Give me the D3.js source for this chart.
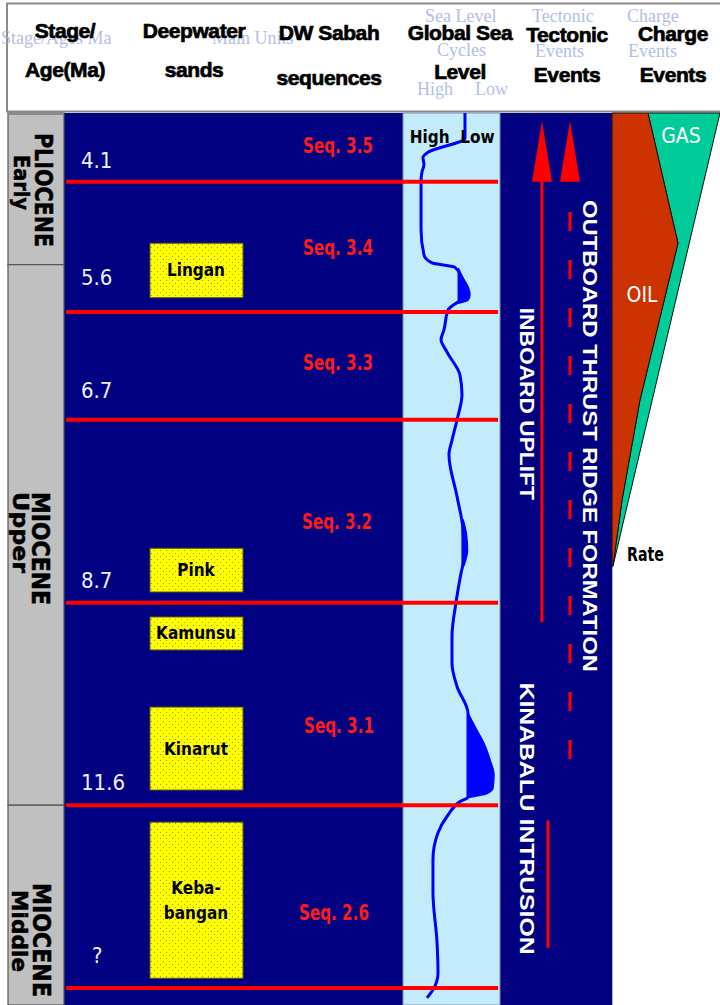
<!DOCTYPE html>
<html>
<head>
<meta charset="utf-8">
<script src="https://cdn.jsdelivr.net/npm/d3@7"></script>
<style>
  body { margin: 0; background: #fff; }
  svg { display: block; }
</style>
</head>
<body>
<div id="chart"></div>
<script>
// ---- data (depth = position down the chart column, 0 = top, 100 = bottom) ----
var headerTitles = [["Stage/", "Age(Ma)"], ["Deepwater", "sands"], ["DW Sabah", "sequences"],
                    ["Global Sea", "Level"], ["Tectonic", "Events"], ["Charge", "Events"]];

var boundaryAges  = ["4.1", "5.6", "6.7", "8.7", "11.6", "?"];
var boundaryDepth = [7.7, 22.3, 34.4, 54.9, 77.6, 98.1];

var stageNames = [["PLIOCENE", "Early"], ["MIOCENE", "Upper"], ["MIOCENE", "Middle"]];
var stageTop    = [0, 17.0, 77.6];
var stageBottom = [17.0, 77.6, 100];

var seqNames = ["Seq. 3.5", "Seq. 3.4", "Seq. 3.3", "Seq. 3.2", "Seq. 3.1", "Seq. 2.6"];

var sandNames  = [["Lingan"], ["Pink"], ["Kamunsu"], ["Kinarut"], ["Keba-", "bangan"]];
var sandTop    = [14.6, 48.8, 56.5, 66.6, 79.5];
var sandBottom = [20.7, 53.7, 60.2, 75.9, 97.0];

// global sea level: [depth, level] with level 0 = High, 100 = Low
var seaLevel = [[0, 63.9], [2.8, 63.9], [4.4, 25.8], [5.0, 20.6], [5.8, 21.6], [6.6, 19.6],
  [7.7, 18.6], [13.1, 18.6], [15.9, 21.6], [16.8, 29.9], [17.3, 53.6], [18.5, 60.8],
  [20.1, 64.9], [20.9, 62.0], [21.2, 56.7], [22.1, 46.4], [24.3, 42.3], [25.4, 39.2],
  [26.8, 45.4], [29.4, 58.8], [31.6, 60.8], [34.4, 55.7], [36.7, 50.5], [38.3, 47.4],
  [43.0, 55.7], [46.7, 61.9], [49.8, 62.9], [51.6, 59.8], [54.9, 54.6], [58.7, 50.5],
  [61.7, 50.5], [64.3, 55.7], [67.3, 67.0], [76.7, 67.0], [77.2, 58.8], [78.7, 46.4],
  [80.7, 36.1], [83.7, 30.9], [87.4, 30.9], [93.0, 35.1], [96.4, 36.1], [98.3, 30.9], [99.2, 24.7]];

// lowstand wedges: [depth, inner level, outer level]
var wedges = [
  [[17.4, 57, 57], [18.5, 57, 62], [19.6, 57, 67.5], [20.4, 57, 69], [21.0, 57, 67], [21.3, 57, 58]],
  [[45.6, 61, 62], [47.3, 61, 65.5], [49.0, 61, 66.5], [50.7, 61, 63]],
  [[67.3, 67, 67], [69.2, 67, 76.3], [70.9, 67, 84.5], [72.5, 67, 89.7], [74.2, 67, 93.8],
   [75.7, 67, 92.8], [76.3, 67, 86.6], [76.7, 67, 69]]
];

// tectonic events
var tectNames  = ["INBOARD UPLIFT", "OUTBOARD THRUST RIDGE FORMATION", "KINABALU INTRUSION"];
var tectCenter = [32.6, 36.2, 79.1];
var upliftArrow  = { tip: 0.9, base: 7.7, end: 57.1 };
var thrustArrow  = { tip: 0.9, base: 7.7, dashStart: 11.1, end: 73.7 };
var intrusionBar = { top: 79.3, end: 93.6 };

// charge events (cumulative rate, 0..100 across the column)
var chargeDepth = [0, 14.6, 32.2, 43.4, 50.8];
var oilRate     = [33.3, 61.1, 25.9, 9.3, 0.9];
var totalRate   = [100, 71.5, 37.2, 15.3, 0.9];

// ---- layout ----
var W = 720, H = 1005;
var bodyTop = 113;
var colGray = [8, 64], colNavy = [64, 612], colSea = [403, 500], colCharge = [612, 720];
var condensed = "'Liberation Sans Narrow', 'DejaVu Sans Condensed', sans-serif";
var headFont = "'Liberation Sans', Arial, sans-serif";

var y  = d3.scaleLinear().domain([0, 100]).range([bodyTop, H]);
var sx = d3.scaleLinear().domain([0, 100]).range(colSea);
var cx = d3.scaleLinear().domain([0, 100]).range(colCharge);

var svg = d3.select("#chart").append("svg")
    .attr("width", W)
    .attr("height", H);

var defs = svg.append("defs");
var pat = defs.append("pattern")
    .attr("id", "dots")
    .attr("patternUnits", "userSpaceOnUse")
    .attr("width", 6).attr("height", 6);
pat.append("rect").attr("width", 6).attr("height", 6).attr("fill", "#ffff00");
pat.append("circle").attr("cx", 1.5).attr("cy", 1.5).attr("r", 0.6).attr("fill", "#8a8a30");
pat.append("circle").attr("cx", 4.5).attr("cy", 4.5).attr("r", 0.6).attr("fill", "#8a8a30");

// ---- header ----
svg.append("rect")
    .attr("x", 7).attr("y", 3.5)
    .attr("width", 720).attr("height", 108)
    .attr("fill", "#fff")
    .attr("stroke", "#8c8c8c")
    .attr("stroke-width", 2);

// faint ghost labels behind the header
var ghost = [["Stage/Ages Ma", 1, 44], ["Main Units", 212, 44], ["Sea Level", 425, 22], ["Cycles", 437, 56],
             ["High", 417, 95], ["Low", 475, 95], ["Tectonic", 532, 22], ["Events", 535, 57],
             ["Charge", 627, 22], ["Events", 628, 57]];
svg.append("g").selectAll("text")
    .data(ghost)
    .join("text")
    .attr("x", d => d[1])
    .attr("y", d => d[2])
    .attr("font-family", "'Liberation Serif', serif")
    .attr("font-size", 18)
    .attr("fill", "#9fb0e0")
    .attr("opacity", 0.8)
    .text(d => d[0]);

var headCx = [65, 194, 329, 460, 567, 673];
var headY1 = [38, 38, 40, 40, 42, 41];
var headY2 = [77, 77, 85, 79, 82, 82];
var hg = svg.append("g")
    .attr("font-family", headFont)
    .attr("font-weight", "bold")
    .attr("font-size", 21)
    .attr("letter-spacing", -0.4)
    .attr("stroke", "#000")
    .attr("stroke-width", 0.7)
    .attr("text-anchor", "middle");
headerTitles.forEach(function (t, i) {
    hg.append("text").attr("x", headCx[i]).attr("y", headY1[i]).text(t[0]);
    hg.append("text").attr("x", headCx[i]).attr("y", headY2[i]).text(t[1]);
});

// ---- body backgrounds ----
svg.append("rect")
    .attr("x", colNavy[0]).attr("y", bodyTop)
    .attr("width", colNavy[1] - colNavy[0]).attr("height", H - bodyTop)
    .attr("fill", "#000080");

svg.append("rect")
    .attr("x", colSea[0]).attr("y", bodyTop)
    .attr("width", colSea[1] - colSea[0]).attr("height", H - bodyTop)
    .attr("fill", "#c2ecfc")
    .attr("stroke", "#7f8fa8")
    .attr("stroke-width", 1);

svg.append("line")
    .attr("x1", colNavy[1] + 0.5).attr("x2", colNavy[1] + 0.5)
    .attr("y1", bodyTop).attr("y2", H)
    .attr("stroke", "#b0b0c8").attr("stroke-width", 1);

// stage column
var stageG = svg.append("g");
stageG.selectAll("rect")
    .data(stageNames)
    .join("rect")
    .attr("x", colGray[0]).attr("width", colGray[1] - colGray[0])
    .attr("y", (d, i) => y(stageTop[i]))
    .attr("height", (d, i) => y(stageBottom[i]) - y(stageTop[i]))
    .attr("fill", "#c0c0c0")
    .attr("stroke", "#555")
    .attr("stroke-width", 1.2);

svg.append("rect")
    .attr("x", colGray[0]).attr("y", bodyTop - 1)
    .attr("width", colGray[1] - colGray[0]).attr("height", 3)
    .attr("fill", "#8a8a8a");

// rotated stage labels: start y, length in px, baseline x, font size
var stageLabelLayout = [
    [[133, 114, 35, 25], [155, 55, 14, 22]],
    [[492, 113, 32, 25], [492, 81, 13, 22]],
    [[883, 114, 33, 25], [890, 82, 12, 22]]
];
stageNames.forEach(function (s, i) {
    s.forEach(function (line, j) {
        var L = stageLabelLayout[i][j];
        stageG.append("text")
            .attr("transform", "translate(" + L[2] + "," + L[0] + ") rotate(90)")
            .attr("font-family", condensed)
            .attr("font-weight", "bold")
            .attr("font-size", L[3])
            .attr("textLength", L[1])
            .attr("lengthAdjust", "spacingAndGlyphs")
            .attr("fill", "#000")
            .attr("stroke", "#000")
            .attr("stroke-width", 0.5)
            .text(line);
    });
});

// sand bodies
var sandG = svg.append("g");
sandG.selectAll("rect")
    .data(sandNames)
    .join("rect")
    .attr("x", 150).attr("width", 93)
    .attr("y", (d, i) => y(sandTop[i]))
    .attr("height", (d, i) => y(sandBottom[i]) - y(sandTop[i]))
    .attr("fill", "url(#dots)")
    .attr("stroke", "#5a5a20")
    .attr("stroke-width", 1);
sandNames.forEach(function (n, i) {
    var mid = (y(sandTop[i]) + y(sandBottom[i])) / 2;
    n.forEach(function (line, j) {
        sandG.append("text")
            .attr("x", 196)
            .attr("y", mid + 6 + (j - (n.length - 1) / 2) * 25)
            .attr("text-anchor", "middle")
            .attr("font-family", condensed)
            .attr("font-weight", "bold")
            .attr("font-size", 17)
            .attr("fill", "#000")
            .text(line);
    });
});

// sea level curve
var seaG = svg.append("g");
var wedgeArea = d3.area()
    .curve(d3.curveMonotoneY)
    .y(d => y(d[0]))
    .x0(d => sx(d[1]))
    .x1(d => sx(d[2]));
seaG.selectAll("path.wedge")
    .data(wedges)
    .join("path")
    .attr("class", "wedge")
    .attr("d", wedgeArea)
    .attr("fill", "#0000ff")
    .attr("stroke", "#0000ff")
    .attr("stroke-width", 1.5);
seaG.append("path")
    .datum(seaLevel)
    .attr("d", d3.line().curve(d3.curveMonotoneY).x(d => sx(d[1])).y(d => y(d[0])))
    .attr("fill", "none")
    .attr("stroke", "#0000ff")
    .attr("stroke-width", 3)
    .attr("stroke-linejoin", "round");

seaG.selectAll("text.hl")
    .data(["High", "Low"])
    .join("text")
    .attr("class", "hl")
    .attr("x", (d, i) => i ? sx(59) : sx(7))
    .attr("y", 143)
    .attr("font-family", condensed)
    .attr("font-weight", "bold")
    .attr("font-size", 17)
    .attr("fill", "#000")
    .text(d => d);

// sequence boundaries
svg.append("g").selectAll("line")
    .data(boundaryDepth)
    .join("line")
    .attr("x1", 66).attr("x2", 498)
    .attr("y1", d => y(d)).attr("y2", d => y(d))
    .attr("stroke", "#ff0000")
    .attr("stroke-width", 4);

var ageLabelLift = [14, 27, 22, 15, 15, 25];
svg.append("g").selectAll("text")
    .data(boundaryAges)
    .join("text")
    .attr("x", (d, i) => d === "?" ? 92 : 81)
    .attr("y", (d, i) => y(boundaryDepth[i]) - ageLabelLift[i])
    .attr("font-family", condensed)
    .attr("font-size", 22)
    .attr("fill", "#f0f0ff")
    .text(d => d);

var seqLabelDepth = [4.5, 15.9, 28.8, 46.6, 69.5, 90.5];
var seqLabelX = [303, 303, 303, 302, 304, 299];
svg.append("g").selectAll("text")
    .data(seqNames)
    .join("text")
    .attr("x", (d, i) => seqLabelX[i])
    .attr("y", (d, i) => y(seqLabelDepth[i]))
    .attr("font-family", condensed)
    .attr("font-weight", "bold")
    .attr("font-size", 21)
    .attr("textLength", 70)
    .attr("lengthAdjust", "spacingAndGlyphs")
    .attr("fill", "#ff1a1a")
    .text(d => d);

// tectonic events
var tg = svg.append("g");
function arrowHead(xc, a) {
    return "M" + (xc - 10) + "," + y(a.base) + "L" + xc + "," + y(a.tip) + "L" + (xc + 10) + "," + y(a.base) + "Z";
}
tg.append("path").attr("d", arrowHead(542, upliftArrow)).attr("fill", "#ff0000");
tg.append("line")
    .attr("x1", 542).attr("x2", 542)
    .attr("y1", y(upliftArrow.base)).attr("y2", y(upliftArrow.end))
    .attr("stroke", "#ff0000").attr("stroke-width", 3);
tg.append("path").attr("d", arrowHead(570, thrustArrow)).attr("fill", "#ff0000");
tg.append("line")
    .attr("x1", 570).attr("x2", 570)
    .attr("y1", y(thrustArrow.dashStart)).attr("y2", y(thrustArrow.end))
    .attr("stroke", "#ff0000").attr("stroke-width", 3)
    .attr("stroke-dasharray", "19,29");
tg.append("line")
    .attr("x1", 548).attr("x2", 548)
    .attr("y1", y(intrusionBar.top)).attr("y2", y(intrusionBar.end))
    .attr("stroke", "#ff0000").attr("stroke-width", 3);

var tectX = [520, 583, 520];
var tectLen = [192, 472, 272];
tectNames.forEach(function (n, i) {
    tg.append("text")
        .attr("transform", "translate(" + tectX[i] + "," + (y(tectCenter[i]) - tectLen[i] / 2) + ") rotate(90)")
        .attr("font-family", headFont)
        .attr("font-weight", "bold")
        .attr("font-size", 20)
        .attr("textLength", tectLen[i])
        .attr("lengthAdjust", "spacingAndGlyphs")
        .attr("fill", "#fff")
        .text(n);
});

// charge events
var chargeRows = chargeDepth.map((d, i) => ({ depth: d, oil: oilRate[i], total: totalRate[i] }));
var cg = svg.append("g");
cg.append("path")
    .datum(chargeRows)
    .attr("d", d3.area().y(d => y(d.depth)).x0(d => cx(d.oil)).x1(d => cx(d.total)))
    .attr("fill", "#00cc99")
    .attr("stroke", "#111")
    .attr("stroke-width", 1);
cg.append("path")
    .datum(chargeRows)
    .attr("d", d3.area().y(d => y(d.depth)).x0(cx(0)).x1(d => cx(d.oil)))
    .attr("fill", "#cc3300")
    .attr("stroke", "#111")
    .attr("stroke-width", 1);

cg.append("text").attr("x", 681).attr("y", 143).attr("text-anchor", "middle")
    .attr("font-family", condensed).attr("font-size", 21).attr("fill", "#fff").text("GAS");
cg.append("text").attr("x", 642).attr("y", 302).attr("text-anchor", "middle")
    .attr("font-family", condensed).attr("font-size", 21).attr("fill", "#fff").text("OIL");
cg.append("text").attr("x", 627).attr("y", 561)
    .attr("font-family", condensed).attr("font-weight", "bold").attr("font-size", 20)
    .attr("textLength", 37).attr("lengthAdjust", "spacingAndGlyphs")
    .attr("fill", "#000").text("Rate");
</script>
</body>
</html>
